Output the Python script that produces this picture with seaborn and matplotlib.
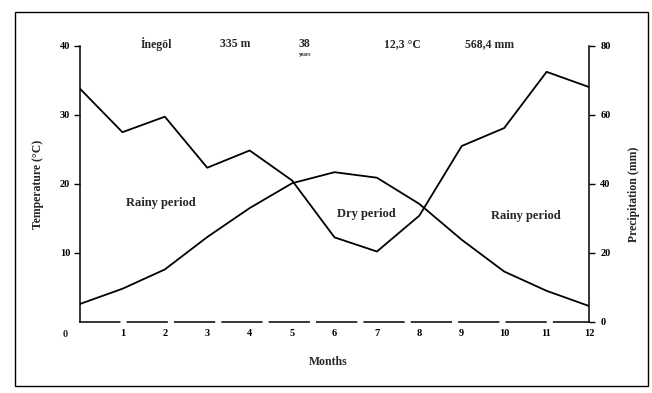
import matplotlib
matplotlib.use("Agg")
import matplotlib.pyplot as plt
import seaborn as sns
import pandas as pd
from matplotlib.patches import Rectangle

# Monthly climate data (month 0 repeats December)
months = [0, 1, 2, 3, 4, 5, 6, 7, 8, 9, 10, 11, 12]
temperature_c = [2.6, 4.8, 7.6, 12.3, 16.5, 20.1, 21.7, 20.9, 17.1, 11.9, 7.3, 4.5, 2.3]
precipitation_mm = [67.6, 55.0, 59.5, 44.7, 49.7, 41.0, 24.5, 20.4, 30.8, 51.0, 56.2, 72.5, 68.1]

station = "İnegöl"
altitude = "335 m"
n_years = "38"
mean_temp = "12,3 °C"
total_precip = "568,4 mm"

temp_ticks = [10, 20, 30, 40]
precip_ticks = [0, 20, 40, 60, 80]
month_labels = ["", "1", "2", "3", "4", "5", "6", "7", "8", "9", "10", "11", "12"]

df = pd.DataFrame({"month": months, "temp": temperature_c, "precip": precipitation_mm})

sns.set_theme(style="white")
plt.rcParams["font.family"] = ["Liberation Serif", "DejaVu Serif"]

fig = plt.figure(figsize=(6.52, 3.93), dpi=100)
ax = fig.add_axes([0.1227, 0.181, 0.7807, 0.702])
ax2 = ax.twinx()

sns.lineplot(data=df, x="month", y="temp", ax=ax, color="black", linewidth=1.3)
sns.lineplot(data=df, x="month", y="precip", ax=ax2, color="black", linewidth=1.3)

ax.set_xlim(0, 12)
ax.set_ylim(0, 40)
ax2.set_ylim(0, 80)

ax.set_xticks(months)
ax.set_xticklabels(month_labels)
ax.set_yticks(temp_ticks)
ax.set_yticklabels([str(t) for t in temp_ticks])
ax2.set_yticks(precip_ticks)
ax2.set_yticklabels([str(t) for t in precip_ticks])

for a in (ax, ax2):
    a.set_xlabel("")
    a.set_ylabel("")
    a.spines["top"].set_visible(False)
    for s in ("left", "right", "bottom"):
        a.spines[s].set_color("black")
        a.spines[s].set_linewidth(1.1)
    a.tick_params(axis="both", labelsize=7.5, colors="black", length=4, width=1)
    for lbl in a.get_yticklabels() + a.get_xticklabels():
        lbl.set_fontweight("bold")

ax.spines["right"].set_visible(False)
ax2.spines["left"].set_visible(False)
ax2.spines["bottom"].set_visible(False)
ax.spines["bottom"].set_linestyle((0, (26, 5)))
ax.tick_params(axis="x", direction="in", length=3, pad=5)
ax.tick_params(axis="y", direction="out", pad=3)
ax2.tick_params(axis="y", direction="out", pad=4)

# origin label placed below and left of the corner
ax.text(-0.35, -1.2, "0", ha="center", va="top", fontsize=7.5, fontweight="bold")

ax.text(-1.0, 20, "Temperature (°C)", rotation=90, ha="center", va="center",
        fontsize=8.5, fontweight="bold", clip_on=False)
ax2.text(13.05, 37, "Precipitation (mm)", rotation=90, ha="center", va="center",
         fontsize=8.5, fontweight="bold", clip_on=False)
ax.text(5.85, -5.8, "Months", ha="center", va="center", fontsize=8.5, fontweight="bold")

# station header
header_y = 40.3
ax.text(1.8, header_y, station, ha="center", va="center", fontsize=8.5, fontweight="bold")
ax.text(3.65, header_y, altitude, ha="center", va="center", fontsize=8.5, fontweight="bold")
ax.text(5.3, header_y, n_years, ha="center", va="center", fontsize=8.5, fontweight="bold")
ax.text(5.3, 38.7, "years", ha="center", va="center", fontsize=4, fontweight="bold")
ax.text(7.6, header_y, mean_temp, ha="center", va="center", fontsize=8.5, fontweight="bold")
ax.text(9.65, header_y, total_precip, ha="center", va="center", fontsize=8.5, fontweight="bold")

# period annotations
ax.text(1.9, 17.3, "Rainy period", ha="center", va="center", fontsize=9, fontweight="bold")
ax.text(6.75, 15.6, "Dry period", ha="center", va="center", fontsize=9, fontweight="bold")
ax.text(10.5, 15.3, "Rainy period", ha="center", va="center", fontsize=9, fontweight="bold")

# outer frame
fig.patches.append(Rectangle((15 / 652, 1 - 386 / 393), (648 - 15) / 652, (386 - 12) / 393,
                             transform=fig.transFigure, fill=False, edgecolor="black",
                             linewidth=1.0))

fig.savefig("out.png", dpi=100)
